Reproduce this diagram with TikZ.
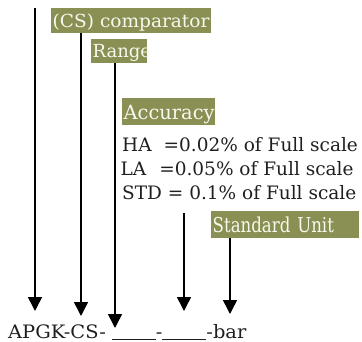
\documentclass[tikz,border=0pt]{standalone}
\usepackage{fontspec}
\setmainfont{DejaVu Serif}
\usetikzlibrary{arrows.meta}
\definecolor{olive}{RGB}{138,144,84}
\definecolor{boxtext}{RGB}{248,248,238}
\newcommand{\txtsz}[2]{\fontsize{#1}{20}\selectfont\addfontfeatures{FakeStretch=#2}}
\tikzset{
  tag/.style={fill=olive, text=boxtext, anchor=north west, inner xsep=1.5pt, inner ysep=0pt, align=left},
  plain/.style={anchor=base west, inner sep=0pt, text=black!88},
  arr/.style={line width=1.5pt, -{Triangle[length=14pt,width=14pt]}}
}
\begin{document}
\begin{tikzpicture}[x=1pt,y=-1pt]
\useasboundingbox (0,0) rectangle (362,341);
% boxes
\node[tag, text width=157pt, text height=19.5pt, text depth=5.5pt, font=\txtsz{18}{1.03}] (cs) at (51,8) {(CS) comparator};
\node[tag, text width=53pt, text height=18.5pt, text depth=5.5pt, font=\txtsz{18}{1.0}] (range) at (91,39) {Range};
\node[tag, text width=90pt, text height=21.5pt, text depth=5.5pt, font=\txtsz{19.6}{0.99}] (acc) at (122,98) {Accuracy};
\node[tag, text width=145pt, text height=21pt, text depth=6pt, font=\txtsz{20.5}{0.81}] (unit) at (211,211) {Standard Unit};
% accuracy lines
\node[plain, font=\txtsz{18.5}{1.0}] (ha) at (122,151) {HA\hspace{12pt}=0.02\% of Full scale};
\node[plain, font=\txtsz{18.5}{1.0}] (la) at (120.5,175) {LA\hspace{13pt}=0.05\% of Full scale};
\node[plain, font=\txtsz{18.5}{1.0}] (std) at (122,199) {STD = 0.1\% of Full scale};
% bottom code
\node[plain, font=\txtsz{18.5}{1.05}] (code) at (8,338) {APGK-CS-\hspace{6pt}\rule[-1.5pt]{44pt}{0.9pt}-\rule[-1.5pt]{44pt}{0.9pt}-bar};
% arrow ends
\coordinate (s1) at (35,8);
\coordinate (e1) at (35,311);
\coordinate (e2) at (81,316);
\coordinate (e3) at (115,328);
\coordinate (s4) at (184,213);
\coordinate (e4) at (184,311);
\coordinate (e5) at (230,314);
\draw[arr] (s1) -- (e1);
\draw[arr] (cs.south west -| e2) -- (e2);
\draw[arr] (range.south west -| e3) -- (e3);
\draw[arr] (s4) -- (e4);
\draw[arr] (unit.south west -| e5) -- (e5);
\end{tikzpicture}
\end{document}
